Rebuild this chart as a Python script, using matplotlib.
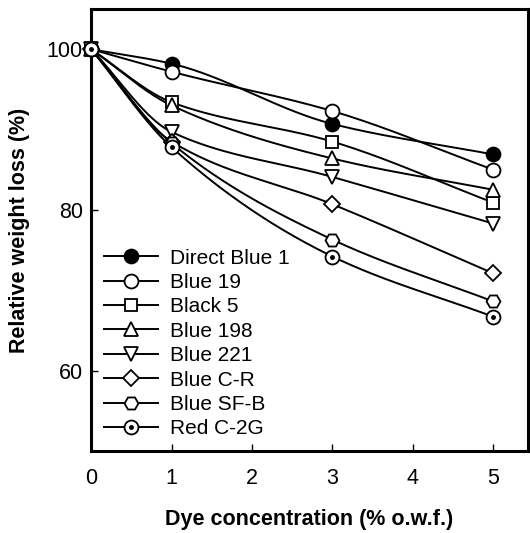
import matplotlib
matplotlib.use("Agg")
import matplotlib.pyplot as plt
from matplotlib.lines import Line2D
from matplotlib.legend_handler import HandlerTuple
import numpy as np

plt.rcParams['font.family'] = ['Liberation Sans', 'DejaVu Sans']

conc = [0, 1, 3, 5]
names = ["Direct Blue 1", "Blue 19", "Black 5", "Blue 198",
         "Blue 221", "Blue C-R", "Blue SF-B", "Red C-2G"]
direct_blue_1 = [100, 98.2, 90.7, 86.9]
blue_19 = [100, 97.2, 92.3, 85.0]
black_5 = [100, 93.4, 88.5, 80.9]
blue_198 = [100, 93.0, 86.4, 82.5]
blue_221 = [100, 89.7, 84.1, 78.3]
blue_cr = [100, 88.5, 80.7, 72.1]
blue_sfb = [100, 88.3, 76.3, 68.6]
red_c2g = [100, 87.8, 74.2, 66.7]
series = [direct_blue_1, blue_19, black_5, blue_198, blue_221, blue_cr, blue_sfb, red_c2g]

markers = ['o', 'o', 's', '^', 'v', 'D', 'H', 'o']
sizes = [10, 10, 9, 10, 10, 8, 10, 10]
fills = ['black', 'white', 'white', 'white', 'white', 'white', 'white', 'white']


def smooth(x, y, n=60):
    # monotone cubic hermite (Fritsch-Carlson) through the points
    x = np.asarray(x, float)
    y = np.asarray(y, float)
    h = np.diff(x)
    d = np.diff(y) / h
    m = np.zeros_like(y)
    m[0], m[-1] = d[0], d[-1]
    for k in range(1, len(x) - 1):
        if d[k - 1] * d[k] > 0:
            w1 = 2 * h[k] + h[k - 1]
            w2 = h[k] + 2 * h[k - 1]
            m[k] = (w1 + w2) / (w1 / d[k - 1] + w2 / d[k])
    xo, yo = [], []
    for k in range(len(x) - 1):
        t = np.linspace(0, 1, n)
        h00 = 2 * t**3 - 3 * t**2 + 1
        h10 = t**3 - 2 * t**2 + t
        h01 = -2 * t**3 + 3 * t**2
        h11 = t**3 - t**2
        xo.append(x[k] + t * h[k])
        yo.append(h00 * y[k] + h10 * h[k] * m[k] + h01 * y[k + 1] + h11 * h[k] * m[k + 1])
    return np.concatenate(xo), np.concatenate(yo)


fig = plt.figure(figsize=(5.3, 5.33), dpi=100)
ax = fig.add_axes([0.172, 0.154, 0.824, 0.829])

handles = []
for y in series:
    sx, sy = smooth(conc, y)
    ax.plot(sx, sy, color='black', lw=1.4, zorder=2)
for i, (y, m, ms, fc) in enumerate(zip(series, markers, sizes, fills)):
    ax.plot(conc, y, ls='none', marker=m, ms=ms, mfc=fc, mec='black', mew=1.3,
            zorder=3, clip_on=False)
    h = Line2D([], [], color='black', lw=1.4, marker=m, ms=ms, mfc=fc,
               mec='black', mew=1.3)
    if i == len(series) - 1:
        ax.plot(conc, y, ls='none', marker='o', ms=2.5, color='black',
                zorder=4, clip_on=False)
        dot = Line2D([], [], ls='none', marker='o', ms=2.5, color='black')
        h = (h, dot)
    handles.append(h)

ax.set_xlim(0, 5.43)
ax.set_ylim(50, 105)
ax.set_xticks([0, 1, 2, 3, 4, 5])
ax.set_yticks([60, 80, 100])
ax.tick_params(direction='in', length=5, width=1, labelsize=15.5, pad=12)
ax.tick_params(axis='y', pad=6)
for s in ax.spines.values():
    s.set_linewidth(2.2)

ax.set_xlabel("Dye concentration (% o.w.f.)", fontsize=15.5, fontweight='bold', labelpad=15)
ax.set_ylabel("Relative weight loss (%)", fontsize=15.5, fontweight='bold', labelpad=12)

ax.legend(handles, names, loc='lower left', frameon=False, fontsize=15,
          handlelength=2.6, handletextpad=0.6, labelspacing=0.26,
          borderaxespad=0.2, bbox_to_anchor=(0.0, 0.0),
          handler_map={tuple: HandlerTuple(ndivide=1, pad=0)})

fig.savefig("out.png", dpi=100)
